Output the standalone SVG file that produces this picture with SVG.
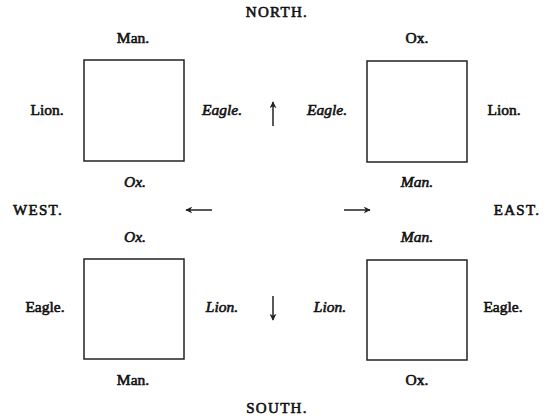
<svg xmlns="http://www.w3.org/2000/svg" width="550" height="420" viewBox="0 0 550 420">
<style>
text{font-family:"Liberation Serif","Times New Roman",serif;font-size:15.5px;fill:#111;stroke:#111;stroke-width:0.6;text-anchor:middle}
.i{font-style:italic}
.cap{font-size:15px;letter-spacing:1.3px}
.box{fill:none;stroke:#222;stroke-width:1.5}
.arr{stroke:#222;stroke-width:1.5;fill:none;marker-end:url(#ah)}
</style>
<defs>
<marker id="ah" viewBox="0 0 10 10" refX="9" refY="5" markerWidth="7" markerHeight="7" orient="auto" markerUnits="userSpaceOnUse">
<path d="M0,0 L10,5 L0,10 L3,5 Z" fill="#222"/>
</marker>
</defs>
<rect width="550" height="420" fill="#fff"/>
<g id="compass">
<text class="cap" x="277" y="17">NORTH.</text>
<text class="cap" x="277" y="413">SOUTH.</text>
<text class="cap" x="38" y="215">WEST.</text>
<text class="cap" x="517" y="215">EAST.</text>
</g>
<g id="connectors">
<line class="arr" x1="273" y1="126" x2="273" y2="102"/>
<line class="arr" x1="273" y1="296" x2="273" y2="320"/>
<line class="arr" x1="212" y1="210" x2="186" y2="210"/>
<line class="arr" x1="344" y1="210" x2="370" y2="210"/>
</g>
<g id="nw">
<rect class="box" x="84" y="60" width="100" height="101"/>
<text x="133" y="43">Man.</text>
<text x="47" y="115">Lion.</text>
<text class="i" x="222" y="115">Eagle.</text>
<text class="i" x="135" y="187">Ox.</text>
</g>
<g id="ne">
<rect class="box" x="367" y="61" width="100" height="101"/>
<text x="417" y="43">Ox.</text>
<text class="i" x="327" y="115">Eagle.</text>
<text x="504" y="115">Lion.</text>
<text class="i" x="417" y="187">Man.</text>
</g>
<g id="sw">
<rect class="box" x="84" y="259" width="100" height="100"/>
<text class="i" x="135" y="242">Ox.</text>
<text x="45" y="312">Eagle.</text>
<text class="i" x="222" y="312">Lion.</text>
<text x="133" y="385">Man.</text>
</g>
<g id="se">
<rect class="box" x="367" y="260" width="100" height="100"/>
<text class="i" x="417" y="242">Man.</text>
<text class="i" x="330" y="312">Lion.</text>
<text x="503" y="312">Eagle.</text>
<text x="417" y="385">Ox.</text>
</g>
</svg>
